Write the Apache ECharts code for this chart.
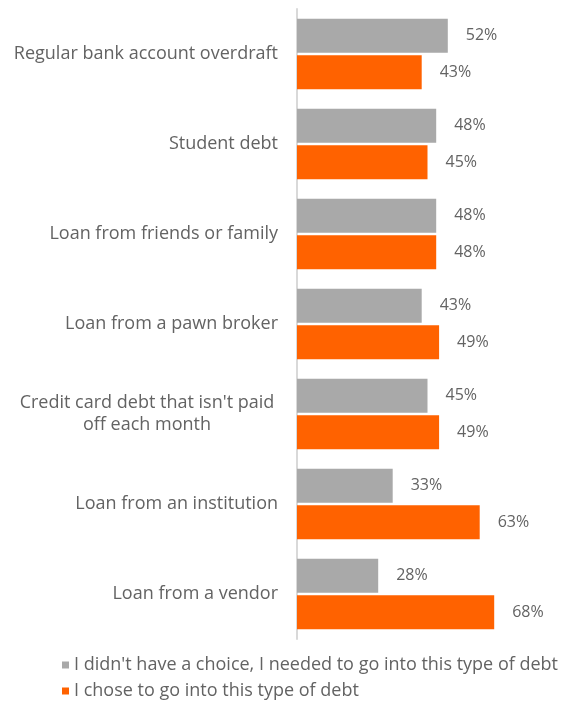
<!DOCTYPE html>
<html><head><meta charset="utf-8">
<script src="https://cdn.jsdelivr.net/npm/echarts@6/dist/echarts.min.js"></script>
<style>html,body{margin:0;padding:0;background:#fff}#c{width:567px;height:701px}</style>
</head><body><div id="c"></div>
<script>
var categories = ["Regular bank account overdraft","Student debt","Loan from friends or family","Loan from a pawn broker","Credit card debt that isn't paid off each month","Loan from an institution","Loan from a vendor"];
var noChoice = [52,48,48,43,45,33,28];
var chose = [43,45,48,49,49,63,68];
var seriesNames = ["I didn't have a choice, I needed to go into this type of debt","I chose to go into this type of debt"];
var FONT = "Open Sans";
var TXT = "#636363";
var chart = echarts.init(document.getElementById('c'));
function lbl(){return {show:true,position:'right',distance:18,formatter:'{c}%',color:TXT,fontFamily:FONT,fontSize:16};}
function leg(name, top){
  return {orient:'horizontal',left:57,top:top,itemWidth:7,itemHeight:7,itemGap:0,icon:'rect',
    textStyle:{color:TXT,fontFamily:FONT,fontSize:18},data:[name]};
}
chart.setOption({
  animation:false,
  grid:{left:297,top:9,width:232,height:630,containLabel:false},
  xAxis:{type:'value',min:0,max:80,show:false},
  yAxis:{type:'category',data:categories,inverse:true,
    axisLine:{show:true,lineStyle:{color:'#d9d9d9',width:2}},
    axisTick:{show:false},
    axisLabel:{margin:19,color:TXT,fontFamily:FONT,fontSize:18,
      formatter:function(v){
        if(v.indexOf('Credit card')===0){return "{a|Credit card debt that isn't paid}\n{a|off each month}";}
        return v;
      },
      rich:{a:{width:262,align:'center',color:TXT,fontFamily:FONT,fontSize:18,lineHeight:22}}
    }},
  legend:[leg(seriesNames[0],651),leg(seriesNames[1],677)],
  series:[
    {name:seriesNames[0],type:'bar',data:noChoice,barWidth:34,barGap:'8%',itemStyle:{color:'#a9a9a9'},label:lbl()},
    {name:seriesNames[1],type:'bar',data:chose,barWidth:34,itemStyle:{color:'#ff6200'},label:lbl()}
  ]
});
</script></body></html>
